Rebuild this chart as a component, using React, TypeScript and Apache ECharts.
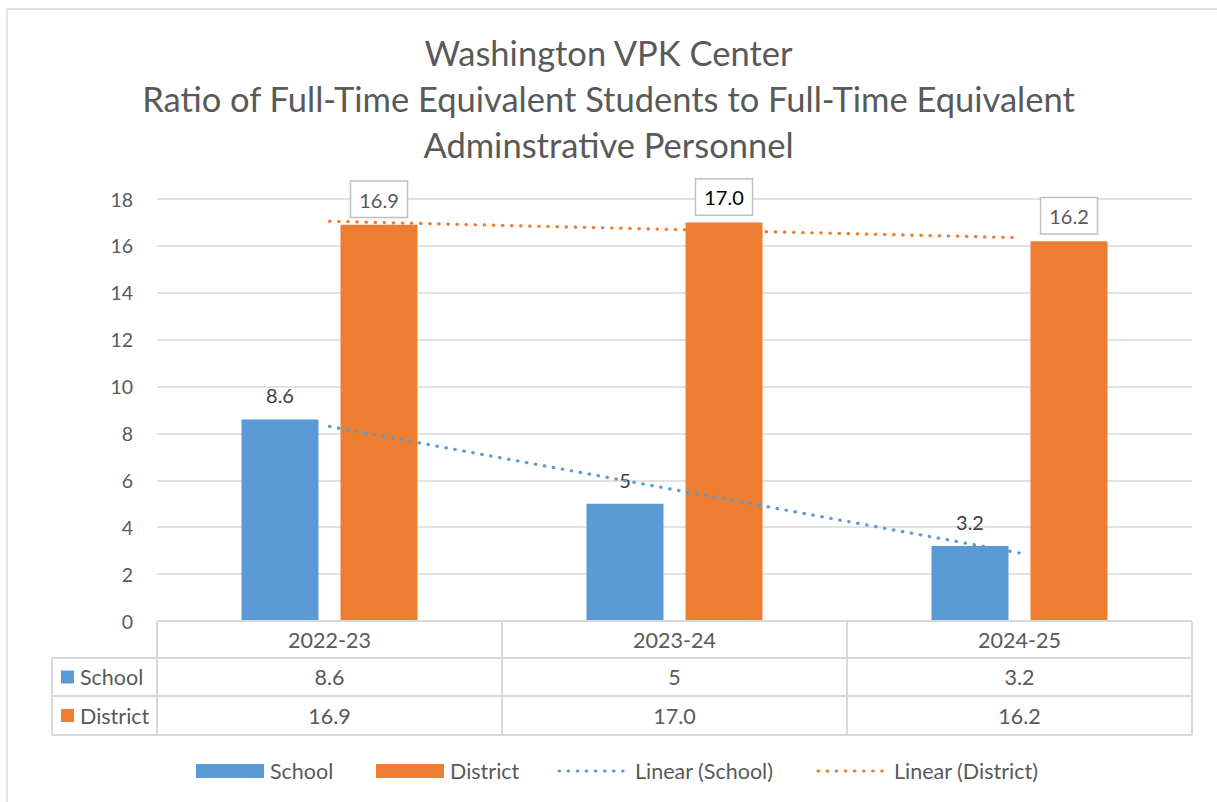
import React, { useEffect, useRef } from "react";
import * as echarts from "echarts";

const titleLines = [
  "Washington VPK Center",
  "Ratio of Full-Time Equivalent Students to Full-Time Equivalent",
  "Adminstrative Personnel",
];
const categories = ["2022-23", "2023-24", "2024-25"];
const schoolValues = [8.6, 5, 3.2];
const districtValues = [16.9, 17.0, 16.2];
const schoolTrend = [8.3, 5.6, 2.9];
const districtTrend = [17.05, 16.7, 16.35];
const yMin = 0;
const yMax = 18;
const yInterval = 2;

const FONT = "Lato, 'Open Sans', sans-serif";
const BLUE = "#5B9BD5";
const ORANGE = "#ED7D31";
const TEXT = "#595959";
const LINE = "#d9d9d9";

const W = 1217;
const H = 802;
const PLOT_L = 157;
const PLOT_R = 1192;
const PLOT_T = 199;
const PLOT_B = 621;
const ROW1 = 658;
const ROW2 = 696;
const ROW3 = 735;
const TABLE_L = 52;
const CELL_FONT = 21.5;

const fmtSchool = (v: number) => String(v);
const fmtDistrict = (v: number) => v.toFixed(1);

export default function App() {
  const ref = useRef<HTMLDivElement>(null);
  useEffect(() => {
    if (!ref.current) return;
    const chart = echarts.init(ref.current, null, { renderer: "svg" });
    const colW = (PLOT_R - PLOT_L) / categories.length;
    const graphics: any[] = [];
    graphics.push({
      type: "rect",
      shape: { x: 7, y: 9, width: W, height: H },
      style: { fill: "none", stroke: LINE, lineWidth: 1.5 },
      silent: true,
    });
    const hl = (x1: number, x2: number, y: number) =>
      graphics.push({ type: "line", shape: { x1, y1: y, x2, y2: y }, style: { stroke: LINE, lineWidth: 2 }, z: 10 });
    const vl = (x: number, y1: number, y2: number) =>
      graphics.push({ type: "line", shape: { x1: x, y1, x2: x, y2 }, style: { stroke: LINE, lineWidth: 2 }, z: 10 });
    hl(PLOT_L, PLOT_R, PLOT_B);
    hl(TABLE_L, PLOT_R, ROW1);
    hl(TABLE_L, PLOT_R, ROW2);
    hl(TABLE_L, PLOT_R, ROW3);
    vl(TABLE_L, ROW1, ROW3);
    for (let i = 0; i <= categories.length; i++) vl(PLOT_L + i * colW, PLOT_B, ROW3);
    const cell = (text: string, x: number, y: number, align = "center") =>
      graphics.push({
        type: "text",
        x,
        y,
        style: { text, fill: TEXT, font: `${CELL_FONT}px ${FONT}`, align, verticalAlign: "middle" },
        z: 10,
      });
    const yH = (PLOT_B + ROW1) / 2;
    const yS = (ROW1 + ROW2) / 2;
    const yD = (ROW2 + ROW3) / 2;
    categories.forEach((c, i) => {
      const cx = PLOT_L + (i + 0.5) * colW;
      cell(c, cx, yH);
      cell(fmtSchool(schoolValues[i]), cx, yS);
      cell(fmtDistrict(districtValues[i]), cx, yD);
    });
    graphics.push({ type: "rect", shape: { x: 61, y: yS - 6.5, width: 13, height: 13 }, style: { fill: BLUE }, z: 10 });
    graphics.push({ type: "rect", shape: { x: 61, y: yD - 6.5, width: 13, height: 13 }, style: { fill: ORANGE }, z: 10 });
    cell("School", 80, yS, "left");
    cell("District", 80, yD, "left");
    const LY = 771;
    graphics.push({ type: "rect", shape: { x: 196, y: LY - 7, width: 68, height: 14 }, style: { fill: BLUE }, z: 10 });
    cell("School", 270, LY, "left");
    graphics.push({ type: "rect", shape: { x: 376, y: LY - 7, width: 68, height: 14 }, style: { fill: ORANGE }, z: 10 });
    cell("District", 450, LY, "left");
    graphics.push({
      type: "line",
      shape: { x1: 559, y1: LY, x2: 623, y2: LY },
      style: { stroke: BLUE, lineWidth: 3.2, lineDash: [0.5, 8.6], lineCap: "round" },
      z: 10,
    });
    cell("Linear (School)", 635, LY, "left");
    graphics.push({
      type: "line",
      shape: { x1: 818, y1: LY, x2: 883, y2: LY },
      style: { stroke: ORANGE, lineWidth: 3.2, lineDash: [0.5, 8.6], lineCap: "round" },
      z: 10,
    });
    cell("Linear (District)", 894, LY, "left");

    chart.setOption({
      animation: false,
      backgroundColor: "#ffffff",
      title: {
        text: titleLines.join("\n"),
        left: "center",
        top: 24,
        textStyle: { fontFamily: FONT, fontSize: 34.5, fontWeight: "normal", color: TEXT, lineHeight: 46 },
      },
      grid: { left: PLOT_L, right: W - PLOT_R, top: PLOT_T, bottom: H - PLOT_B, containLabel: false },
      xAxis: {
        type: "category",
        data: categories,
        axisLine: { show: false },
        axisTick: { show: false },
        axisLabel: { show: false },
      },
      yAxis: {
        type: "value",
        min: yMin,
        max: yMax,
        interval: yInterval,
        axisLine: { show: false },
        axisTick: { show: false },
        axisLabel: { fontFamily: FONT, fontSize: 19.5, color: TEXT, margin: 24 },
        splitLine: { lineStyle: { color: LINE, width: 1.5 } },
      },
      series: [
        {
          name: "School",
          type: "bar",
          data: schoolValues,
          barWidth: 77,
          barGap: "28.6%",
          itemStyle: { color: BLUE },
          label: {
            show: true,
            position: "top",
            distance: 14,
            formatter: (p: any) => fmtSchool(p.value),
            fontFamily: FONT,
            fontSize: 20,
            lineHeight: 20,
            color: "#404040",
          },
          z: 2,
        },
        {
          name: "District",
          type: "bar",
          data: districtValues.map((v, i) => ({
            value: v,
            label: { color: i === 1 ? "#000000" : TEXT },
          })),
          barWidth: 77,
          barGap: "28.6%",
          itemStyle: { color: ORANGE },
          label: {
            show: true,
            position: "top",
            distance: 8,
            formatter: (p: any) => fmtDistrict(p.value),
            fontFamily: FONT,
            fontSize: 20,
            lineHeight: 22,
            padding: [7, 8, 6, 8],
            backgroundColor: "#ffffff",
            borderColor: "#bfbfbf",
            borderWidth: 1.5,
          },
          z: 2,
        },
        {
          name: "Linear (School)",
          type: "line",
          data: schoolTrend,
          symbol: "none",
          lineStyle: { color: BLUE, width: 3.2, type: [0.5, 8.6], cap: "round" },
          z: 5,
          silent: true,
        },
        {
          name: "Linear (District)",
          type: "line",
          data: districtTrend,
          symbol: "none",
          lineStyle: { color: ORANGE, width: 3.2, type: [0.5, 8.6], cap: "round" },
          z: 5,
          silent: true,
        },
      ],
      graphic: graphics,
    });
    return () => chart.dispose();
  }, []);
  return <div ref={ref} style={{ position: "fixed", left: 0, top: 0, width: W, height: H }} />;
}
